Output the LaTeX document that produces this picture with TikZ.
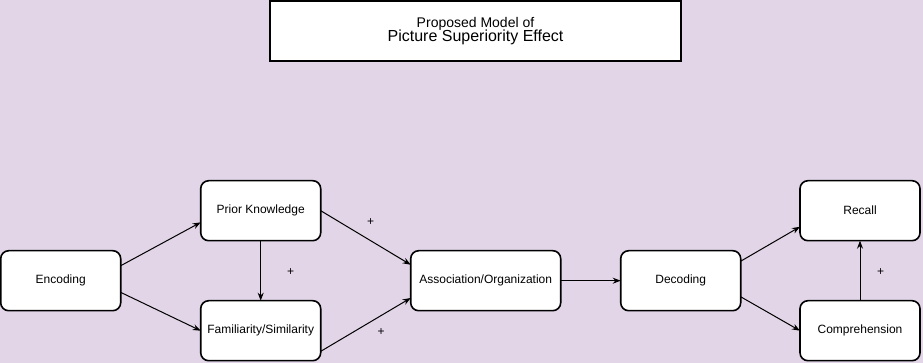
\documentclass[tikz,border=0pt]{standalone}
\usepackage{fontspec}
\setmainfont{Liberation Sans}
\usetikzlibrary{arrows.meta, positioning}
\definecolor{lavender}{HTML}{E1D5E7}
\definecolor{inkblack}{HTML}{000000}

\begin{document}
\begin{tikzpicture}[x=0.75pt, y=0.75pt,
  >={Stealth[length=6pt, width=4.5pt]},
  procbox/.style={draw=inkblack, fill=white, line width=1.2pt, rounded corners=6pt,
    minimum width=90pt, minimum height=45pt, inner sep=0pt, outer sep=0pt,
    font=\fontsize{9}{11}\selectfont},
  titlebox/.style={draw=inkblack, fill=white, line width=1.8pt,
    minimum width=308pt, minimum height=45pt, inner sep=0pt, outer sep=0pt, align=center},
  plus/.style={font=\fontsize{9}{11}\selectfont, inner sep=0pt},
  link/.style={->, inkblack, line width=0.75pt}]

% Background
\fill[lavender] (0,0) rectangle (923,363);
\useasboundingbox (0,0) rectangle (923,363);

% Title
\node[titlebox] (title) at (475.5,332)
  {{\fontsize{10.5}{12}\selectfont Proposed Model of}\\[-1pt]
   {\fontsize{12}{12}\selectfont Picture Superiority Effect}};

% Stages
\node[procbox] (enc) at (60.7,82.3) {Encoding};
\node[procbox] (pk) at (260.7,152.3) {Prior Knowledge};
\node[procbox] (fam) at (260.7,32.3) {Familiarity/Similarity};
\node[procbox, minimum width=112.5pt] (assoc) at (485.7,82.3) {Association/Organization};
\node[procbox] (dec) at (680.7,82.3) {Decoding};
\node[procbox] (recall) at (860,152.3) {Recall};
\node[procbox] (comp) at (860,32.3) {Comprehension};

% Connectors
\draw[link] (enc.14) -- (pk.191);
\draw[link] (enc.-11) -- (fam.west);
\draw[link] (pk.south) -- (fam.north);
\draw[link] (pk.east) -- (assoc.168);
\draw[link] (fam.-19) -- (assoc.193);
\draw[link] (assoc.east) -- (dec.west);
\draw[link] (dec.18) -- (recall.195);
\draw[link] (dec.-15) -- (comp.west);
\draw[link] (comp.north) -- (recall.south);

% Signs
\node[plus] (plus1) at (370.7,140.7) {+};
\node[plus] (plus2) at (290.7,91.3) {+};
\node[plus] (plus3) at (381,30.7) {+};
\node[plus] (plus4) at (880.7,90.7) {+};

\end{tikzpicture}
\end{document}
